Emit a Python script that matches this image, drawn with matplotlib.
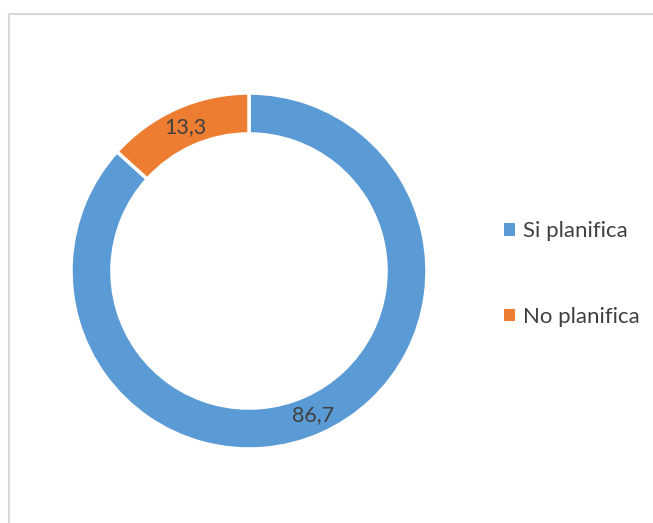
import matplotlib.pyplot as plt
from matplotlib.lines import Line2D

categories = ["Si planifica", "No planifica"]
values = [86.7, 13.3]
colors = ["#5B9BD5", "#ED7D31"]

W, H = 653, 523
fig = plt.figure(figsize=(W / 100, H / 100), dpi=100)

# light frame (cropped at right and bottom)
fig.add_artist(Line2D([9 / W, 9 / W], [0, 1 - 14 / H], color="#D9D9D9", lw=1.5))
fig.add_artist(Line2D([9 / W, 1], [1 - 14 / H, 1 - 14 / H], color="#D9D9D9", lw=1.5))

# donut: center (249, 271), radius 178 px
cx, cy, r = 249, 271, 178
ax = fig.add_axes([(cx - r) / W, (H - cy - r) / H, 2 * r / W, 2 * r / H])

wedges, texts = ax.pie(values, colors=colors, startangle=90, counterclock=False,
                       radius=1, wedgeprops=dict(width=0.23, edgecolor="white", linewidth=2.5),
                       labels=[f"{v:.1f}".replace(".", ",") for v in values],
                       labeldistance=0.885,
                       textprops=dict(fontsize=15.5, color="#404040", family="Lato"))
for t in texts:
    t.set_ha("center")
    t.set_va("center")
ax.set_xlim(-1, 1)
ax.set_ylim(-1, 1)
ax.set_aspect("equal")
ax.axis("off")

leg = fig.legend(wedges, categories, loc="center left",
                 bbox_to_anchor=(484 / W, 1 - 274 / H), frameon=False,
                 handlelength=0.5, handleheight=0.5, handletextpad=0.35,
                 labelspacing=2.95, prop=dict(family="Lato", size=16))
for t in leg.get_texts():
    t.set_color("#404040")
for h in leg.legend_handles:
    h.set_edgecolor("none")

fig.savefig("out.png", dpi=100)
